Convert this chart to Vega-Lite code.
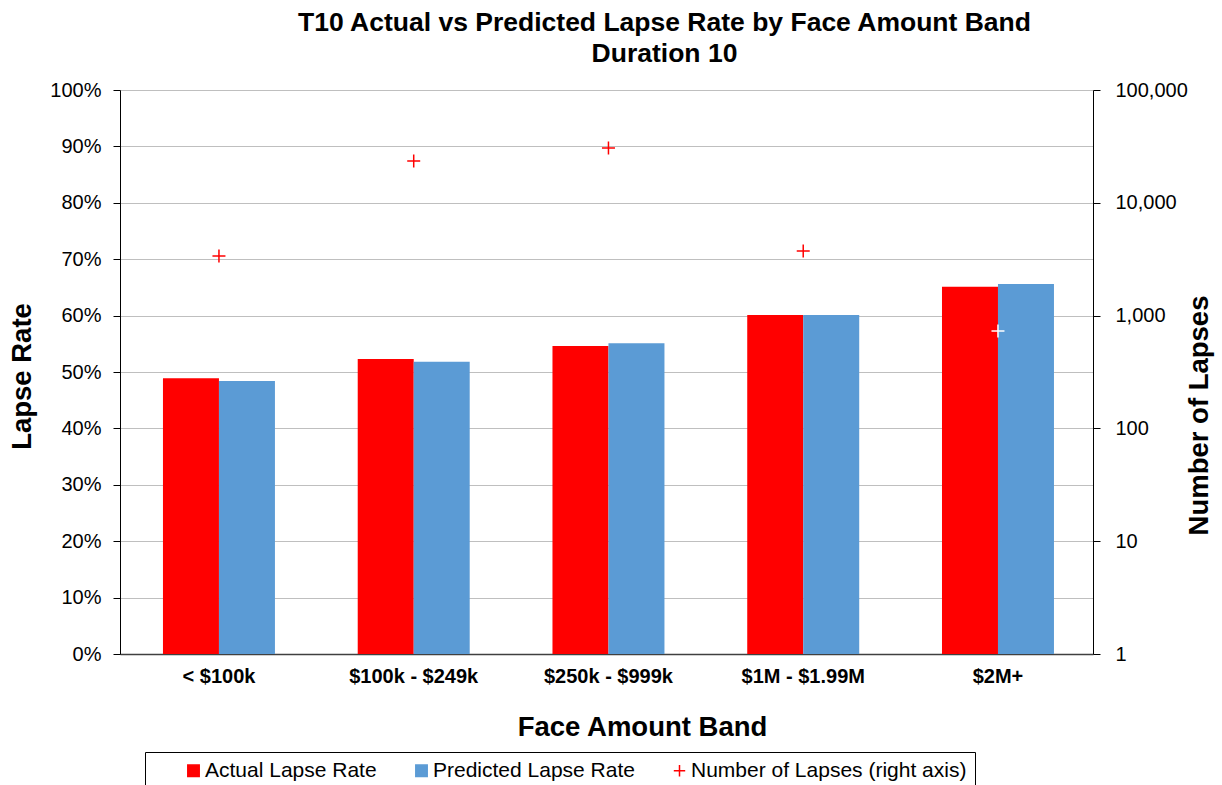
{
  "$schema": "https://vega.github.io/schema/vega-lite/v6.json",
  "width": 973,
  "height": 564,
  "autosize": {"type": "none"},
  "padding": {"left": 120, "top": 90, "right": 129, "bottom": 131},
  "background": "white",
  "config": {
    "font": "Liberation Sans",
    "view": {"stroke": null},
    "axis": {"labelColor": "black", "titleColor": "black", "labelFont": "Liberation Sans", "titleFont": "Liberation Sans"},
    "legend": {"labelFont": "Liberation Sans"}
  },
  "title": {
    "text": ["T10 Actual vs Predicted Lapse Rate by Face Amount Band", "Duration 10"],
    "fontSize": 26.5,
    "font": "Liberation Sans",
    "fontWeight": "bold",
    "color": "black",
    "anchor": "middle",
    "dx": 58,
    "offset": 13,
    "lineHeight": 31
  },
  "datasets": {
    "rates": [
      {"band": "< $100k", "series": "Actual Lapse Rate", "rate": 0.489},
      {"band": "< $100k", "series": "Predicted Lapse Rate", "rate": 0.484},
      {"band": "$100k - $249k", "series": "Actual Lapse Rate", "rate": 0.523},
      {"band": "$100k - $249k", "series": "Predicted Lapse Rate", "rate": 0.518},
      {"band": "$250k - $999k", "series": "Actual Lapse Rate", "rate": 0.546},
      {"band": "$250k - $999k", "series": "Predicted Lapse Rate", "rate": 0.551},
      {"band": "$1M - $1.99M", "series": "Actual Lapse Rate", "rate": 0.601},
      {"band": "$1M - $1.99M", "series": "Predicted Lapse Rate", "rate": 0.601},
      {"band": "$2M+", "series": "Actual Lapse Rate", "rate": 0.651},
      {"band": "$2M+", "series": "Predicted Lapse Rate", "rate": 0.656}
    ],
    "lapses": [
      {"band": "< $100k", "series": "Number of Lapses (right axis)", "lapses": 3380},
      {"band": "$100k - $249k", "series": "Number of Lapses (right axis)", "lapses": 23500},
      {"band": "$250k - $999k", "series": "Number of Lapses (right axis)", "lapses": 30600},
      {"band": "$1M - $1.99M", "series": "Number of Lapses (right axis)", "lapses": 3740},
      {"band": "$2M+", "series": "Number of Lapses (right axis)", "lapses": 730}
    ]
  },
  "layer": [
    {
      "data": {"name": "rates"},
      "mark": {"type": "bar"},
      "encoding": {
        "x": {
          "field": "band",
          "type": "nominal",
          "sort": ["< $100k", "$100k - $249k", "$250k - $999k", "$1M - $1.99M", "$2M+"],
          "scale": {"paddingInner": 0.425, "paddingOuter": 0.2105, "align": 0.524},
          "axis": {
            "title": "Face Amount Band",
            "titleFontSize": 27.5,
            "titleFontWeight": "bold",
            "titleX": 522,
            "titleY": 73,
            "titleBaseline": "middle",
            "titleAlign": "center",
            "labelFontSize": 20,
            "labelFontWeight": "bold",
            "labelAngle": 0,
            "labelPadding": 12,
            "ticks": false,
            "domainColor": "#404040",
            "domainWidth": 1.5
          }
        },
        "xOffset": {"field": "series", "type": "nominal", "sort": ["Actual Lapse Rate", "Predicted Lapse Rate"]},
        "y": {
          "field": "rate",
          "type": "quantitative",
          "scale": {"domain": [0, 1]},
          "axis": {
            "title": "Lapse Rate",
            "format": ".0%",
            "values": [0, 0.1, 0.2, 0.3, 0.4, 0.5, 0.6, 0.7, 0.8, 0.9, 1],
            "grid": true,
            "gridColor": "#BFBFBF",
            "tickSize": 7,
            "tickColor": "black",
            "domainColor": "black",
            "labelFontSize": 20,
            "labelPadding": 12,
            "labelFlush": false,
            "labelOverlap": false,
            "titleFontSize": 27.5,
            "titleFontWeight": "bold",
            "titleX": -98,
            "titleY": 286,
            "titleAngle": -90,
            "titleBaseline": "middle",
            "titleAlign": "center"
          }
        },
        "color": {
          "field": "series",
          "type": "nominal",
          "scale": {
            "domain": ["Actual Lapse Rate", "Predicted Lapse Rate", "Number of Lapses (right axis)"],
            "range": ["#FF0000", "#5B9BD5", "#FF0000"]
          },
          "legend": {
            "title": null,
            "orient": "none",
            "legendX": 25,
            "legendY": 662,
            "direction": "horizontal",
            "strokeColor": "black",
            "padding": 8,
            "labelFontSize": 21,
            "labelColor": "black",
            "labelOffset": 1,
            "symbolSize": 130,
            "symbolStrokeWidth": 1.5,
            "columnPadding": 4,
            "symbolOffset": 30,
            "labelLimit": 400
          }
        }
      }
    },
    {
      "data": {"name": "lapses"},
      "mark": {"type": "point", "filled": false, "strokeWidth": 1.5, "size": 169, "opacity": 1},
      "encoding": {
        "x": {"field": "band", "type": "nominal", "sort": ["< $100k", "$100k - $249k", "$250k - $999k", "$1M - $1.99M", "$2M+"]},
        "y": {
          "field": "lapses",
          "type": "quantitative",
          "scale": {"type": "log", "domain": [1, 100000]},
          "axis": {
            "orient": "right",
            "title": "Number of Lapses",
            "values": [1, 10, 100, 1000, 10000, 100000],
            "format": ",d",
            "grid": false,
            "tickSize": 7,
            "tickColor": "black",
            "domainColor": "black",
            "labelFontSize": 20,
            "labelPadding": 15,
            "labelFlush": false,
            "labelOverlap": false,
            "titleFontSize": 27.5,
            "titleFontWeight": "bold",
            "titleX": 106,
            "titleY": 325,
            "titleAngle": -90,
            "titleBaseline": "middle",
            "titleAlign": "center"
          }
        },
        "color": {
          "condition": {"test": "datum.band === '$2M+'", "value": "white"},
          "field": "series",
          "type": "nominal"
        },
        "shape": {
          "field": "series",
          "type": "nominal",
          "scale": {
            "domain": ["Actual Lapse Rate", "Predicted Lapse Rate", "Number of Lapses (right axis)"],
            "range": ["square", "square", "M-1,0H1M0,-1V1"]
          }
        }
      }
    }
  ],
  "resolve": {"scale": {"y": "independent"}}
}
